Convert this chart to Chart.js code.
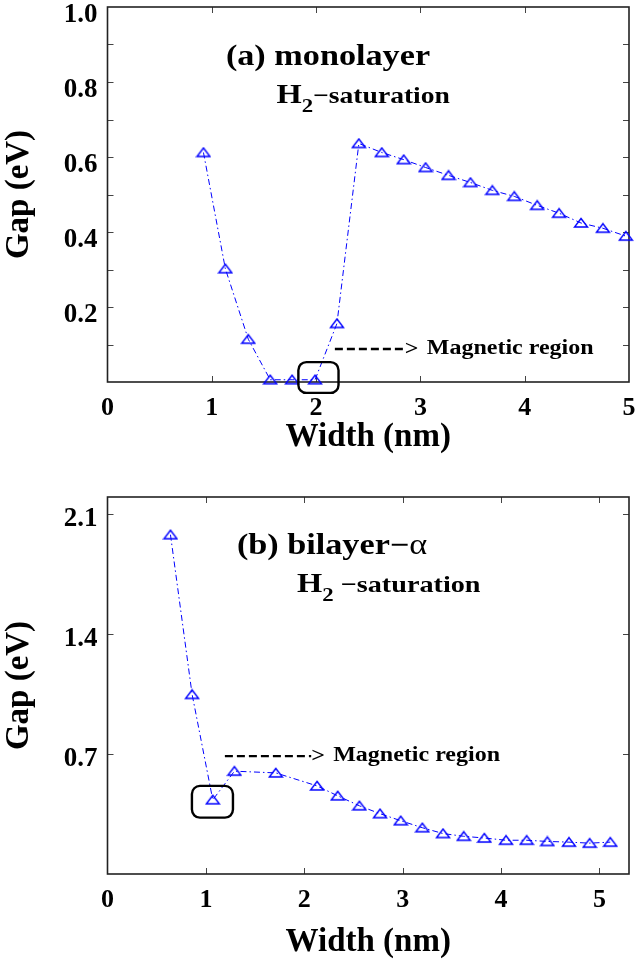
<!DOCTYPE html>
<html><head><meta charset="utf-8">
<script src="https://cdn.jsdelivr.net/npm/chart.js@4.4.1/dist/chart.umd.min.js"></script>
<style>
html,body{margin:0;padding:0;background:#fff;width:636px;height:968px;overflow:hidden}
.box{position:absolute;left:0;width:636px}
canvas{display:block}
</style></head><body>
<div class="box" style="top:0;height:470px"><canvas id="c1" width="636" height="470"></canvas></div>
<div class="box" style="top:470px;height:498px"><canvas id="c2" width="636" height="498"></canvas></div>
<script>
// ---- data ----
const widthMono = [0.92, 1.13, 1.35, 1.56, 1.77, 1.99, 2.20, 2.41, 2.63, 2.84, 3.05, 3.27, 3.48, 3.69, 3.90, 4.12, 4.33, 4.54, 4.75, 4.97];
const gapMono   = [0.612, 0.302, 0.114, 0.006, 0.006, 0.006, 0.156, 0.636, 0.612, 0.593, 0.572, 0.551, 0.532, 0.511, 0.495, 0.471, 0.450, 0.424, 0.410, 0.389];
const widthBi   = [0.64, 0.86, 1.07, 1.29, 1.71, 2.13, 2.34, 2.56, 2.77, 2.98, 3.20, 3.41, 3.62, 3.83, 4.05, 4.26, 4.47, 4.69, 4.90, 5.11];
const gapBi     = [1.98, 1.048, 0.433, 0.600, 0.590, 0.514, 0.456, 0.398, 0.352, 0.311, 0.270, 0.236, 0.220, 0.210, 0.197, 0.197, 0.190, 0.186, 0.180, 0.186];
const yLabelsMono = [0.2, 0.4, 0.6, 0.8, 1.0];
const yLabelsBi   = [0.7, 1.4, 2.1];
const xLabels     = [0, 1, 2, 3, 4, 5];

const FONT = '"Liberation Serif", "Times New Roman", serif';
const BLUE = '#0000ff';

// flattened open triangle marker
function triMarker(){
  const c = document.createElement('canvas');
  c.width = 16; c.height = 12;
  const g = c.getContext('2d');
  g.strokeStyle = BLUE; g.lineWidth = 1.4;
  g.beginPath(); g.moveTo(8, 1.5); g.lineTo(14.5, 10); g.lineTo(1.5, 10); g.closePath(); g.stroke();
  return c;
}
const MARK = triMarker();

function stretchText(ctx, text, x, y, font, sx, align){
  ctx.save();
  ctx.font = font;
  const w = ctx.measureText(text).width * sx;
  ctx.translate(align === 'right' ? x - w : x, y);
  ctx.scale(sx, 1);
  ctx.fillText(text, 0, 0);
  ctx.restore();
  return w;
}

const framePlugin = {
  id: 'frame',
  beforeDatasetsDraw(chart){
    const {ctx, chartArea: a, scales: {x, y}} = chart;
    ctx.save();
    ctx.strokeStyle = '#444'; ctx.lineWidth = 1;
    const L = 6;
    ctx.beginPath();
    x.ticks.forEach(t => {
      const p = Math.round(x.getPixelForValue(t.value)) + 0.5;
      if (p <= a.left + 2 || p >= a.right - 2) return;
      ctx.moveTo(p, a.bottom); ctx.lineTo(p, a.bottom - L);
      ctx.moveTo(p, a.top); ctx.lineTo(p, a.top + L);
    });
    y.ticks.forEach(t => {
      const p = Math.round(y.getPixelForValue(t.value)) + 0.5;
      if (p <= a.top + 2 || p >= a.bottom - 2) return;
      ctx.moveTo(a.left, p); ctx.lineTo(a.left + L, p);
      ctx.moveTo(a.right, p); ctx.lineTo(a.right - L, p);
    });
    ctx.stroke();
    ctx.strokeStyle = '#222'; ctx.lineWidth = 1.6;
    ctx.strokeRect(a.left, a.top, a.right - a.left, a.bottom - a.top);
    ctx.restore();
  },
  afterDraw(chart, args, opts){
    const {ctx, scales: {x, y}} = chart;
    const items = opts.items || [];
    ctx.save();
    ctx.fillStyle = '#000'; ctx.strokeStyle = '#000';
    ctx.textBaseline = 'alphabetic';
    items.forEach(it => {
      const px = x.getPixelForValue(it.x), py = y.getPixelForValue(it.y);
      if (it.type === 'text') {
        let cx = px;
        it.parts.forEach(p => {
          cx += p.gap || 0;
          const w = stretchText(ctx, p.t, cx, py + (p.dy || 0), (p.w || 'bold') + ' ' + p.s + 'px ' + FONT, 1.2);
          cx += w;
        });
      } else if (it.type === 'arrow') {
        const px2 = x.getPixelForValue(it.x2);
        ctx.save();
        ctx.lineWidth = 2.4; ctx.setLineDash([8, 4]);
        ctx.beginPath(); ctx.moveTo(px, py); ctx.lineTo(px2, py); ctx.stroke();
        ctx.restore();
        ctx.textBaseline = 'middle';
        stretchText(ctx, '>', px2, py + 1, 'bold ' + it.s + 'px ' + FONT, 1.2);
        stretchText(ctx, it.label, px2 + it.gapText, py, 'bold ' + it.s + 'px ' + FONT, 1.2);
        ctx.textBaseline = 'alphabetic';
      } else if (it.type === 'box') {
        const x2 = x.getPixelForValue(it.x2), y2 = y.getPixelForValue(it.y2);
        ctx.lineWidth = 2.4;
        ctx.beginPath();
        ctx.roundRect(px, py, x2 - px, y2 - py, 8);
        ctx.stroke();
      }
    });
    ctx.restore();
  }
};

function makeChart(id, xs, ys, cfg){
  const H = document.getElementById(id).height;
  return new Chart(document.getElementById(id), {
    type: 'line',
    data: { datasets: [{
      data: xs.map((v, i) => ({x: v, y: ys[i]})),
      borderColor: BLUE, borderWidth: 1, borderDash: [6, 3, 1.5, 3],
      pointStyle: MARK, pointRadius: 6, pointHoverRadius: 6,
      backgroundColor: 'transparent', clip: false, tension: 0
    }]},
    plugins: [framePlugin],
    options: {
      responsive: false, animation: false, devicePixelRatio: 1,
      layout: { padding: cfg.padding },
      plugins: { legend: {display: false}, tooltip: {enabled: false}, frame: {items: cfg.items} },
      scales: {
        x: {
          type: 'linear', min: 0, max: cfg.xmax,
          grid: {display: false, drawTicks: false}, border: {display: false},
          ticks: { stepSize: 1, includeBounds: false, padding: 11, color: '#000',
            font: {family: FONT, size: 26, weight: 'bold'},
            callback: v => xLabels.includes(v) ? String(v) : '' },
          title: { display: true, text: 'Width (nm)', color: '#000',
            font: {family: FONT, size: 33, weight: 'bold', lineHeight: 1},
            padding: {top: 0, bottom: cfg.xtitlePad} },
          afterFit: s => { s.height = H - cfg.bottom; s.paddingLeft = 0; s.paddingRight = 0; }
        },
        y: {
          min: 0, max: cfg.ymax,
          grid: {display: false, drawTicks: false}, border: {display: false},
          ticks: { stepSize: cfg.ystep, includeBounds: false, padding: 10, color: '#000', labelOffset: cfg.yLabelOffset,
            font: {family: FONT, size: 27, weight: 'bold'},
            callback: v => { const f = cfg.yLabels.find(l => Math.abs(l - v) < 1e-6); return f === undefined ? '' : f.toFixed(1); } },
          title: { display: true, text: 'Gap (eV)', color: '#000',
            font: {family: FONT, size: 33, weight: 'bold', lineHeight: 1},
            padding: {top: 3, bottom: 0} },
          afterFit: s => { s.width = 107.5; s.paddingTop = 0; s.paddingBottom = 0; }
        }
      }
    }
  });
}

makeChart('c1', widthMono, gapMono, {
  xmax: 5, ymax: 1.0, ystep: 0.1, yLabels: yLabelsMono, yLabelOffset: 8,
  padding: {top: 5, right: 7, left: 0, bottom: 0}, bottom: 382, xtitlePad: 16,
  items: [
    {type: 'text', x: 1.135, y: 0.845, parts: [{t: '(a) monolayer', s: 28.5}]},
    {type: 'text', x: 1.62, y: 0.745, parts: [{t: 'H', s: 27}, {t: '2', s: 19, dy: 9}, {t: '\u2212saturation', s: 23}]},
    {type: 'arrow', x: 2.18, x2: 2.85, y: 0.088, s: 20, gapText: 22, label: 'Magnetic region'},
    {type: 'box', x: 1.83, y: 0.053, x2: 2.215, y2: -0.029}
  ]
});

makeChart('c2', widthBi, gapBi, {
  xmax: 5.3, ymax: 2.2, ystep: 0.7, yLabels: yLabelsBi, yLabelOffset: 5,
  padding: {top: 27, right: 7, left: 0, bottom: 0}, bottom: 404, xtitlePad: 9,
  items: [
    {type: 'text', x: 1.315, y: 1.87, parts: [{t: '(b) bilayer\u2212', s: 28.5}, {t: '\u03b1', s: 28.5, w: 'normal'}]},
    {type: 'text', x: 1.926, y: 1.645, parts: [{t: 'H', s: 27}, {t: '2', s: 19, dy: 9}, {t: ' \u2212saturation', s: 23.5}]},
    {type: 'arrow', x: 1.193, x2: 2.07, y: 0.688, s: 20, gapText: 22, label: 'Magnetic region'},
    {type: 'box', x: 0.858, y: 0.514, x2: 1.275, y2: 0.329}
  ]
});
</script>
</body></html>
